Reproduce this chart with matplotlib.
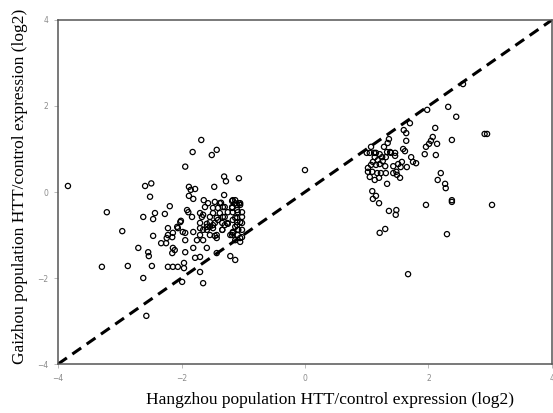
import matplotlib
matplotlib.use("Agg")
import matplotlib.pyplot as plt

# Hangzhou (x) vs Gaizhou (y) log2 HTT/control expression
hangzhou_down = [
    -3.84, -2.59, -2.49, -2.51, -1.94, -1.82, -1.68, -1.51, -1.43, -1.31, -1.28, -1.07,
    -1.88, -1.85, -1.78, -1.47, -1.31, -1.88, -1.81, -1.64, -1.46, -1.36, -1.18, -1.13,
    -1.07, -2.19, -2.27, -1.91, -1.89, -1.83, -2.01, -1.70, -1.62, -1.49, -1.41, -1.30,
    -1.25, -1.18, -1.10, -1.02, -1.05, -1.67, -1.54, -1.43, -1.33, -1.13, -1.02, -1.70,
    -1.59, -1.49, -1.34, -1.25, -1.10, -1.02, -2.22, -2.06, -1.70,
    -2.02, -2.07, -2.22, -2.24, -2.15, -2.33, -2.25, -2.14, -1.98, -1.94, -1.94, -1.81,
    -1.75, -1.70, -1.65, -1.59, -1.54, -1.46, -1.43, -1.34, -1.30, -1.21, -1.17, -1.13,
    -1.05, -1.05, -1.08, -1.10,
    -2.14, -2.15, -1.94, -1.81, -1.70, -1.78, -1.59, -1.43, -1.21, -1.13, -2.22, -2.14,
    -2.06, -1.96, -1.96, -1.99, -1.70, -1.65,
    -2.96, -3.29, -2.87, -2.62, -2.70, -2.54, -2.53, -2.48, -2.46, -2.57, -2.11, -3.21,
    -2.62, -2.46, -2.43,
    -1.57, -1.49, -1.38, -1.33, -1.17, -1.13, -1.10, -1.05, -1.18, -1.17, -1.09, -1.38,
    -1.30, -1.65, -1.46, -1.54, -1.41, -1.26, -1.17, -1.10, -1.05, -1.13, -1.09, -1.02,
    -1.17, -1.18, -1.09, -1.02, -1.59, -1.65, -1.49, -1.34, -1.43, -1.54,
]
gaizhou_down = [
    0.14, 0.14, 0.20, -0.11, 0.59, 0.93, 1.21, 0.86, 0.98, 0.36, 0.25, 0.32,
    0.12, 0.05, 0.07, 0.12, -0.07, -0.09, -0.16, -0.19, -0.23, -0.25, -0.21, -0.19,
    -0.26, -0.33, -0.51, -0.42, -0.47, -0.58, -0.67, -0.49, -0.35, -0.49, -0.37, -0.35,
    -0.47, -0.37, -0.42, -0.47, -0.30, -0.58, -0.58, -0.60, -0.58, -0.60, -0.58, -0.72,
    -0.74, -0.77, -0.72, -0.74, -0.70, -0.72, -0.84, -0.84, -0.84,
    -0.70, -0.81, -1.00, -1.07, -1.05, -1.19, -1.19, -0.95, -0.93, -0.95, -1.12, -0.93,
    -1.12, -1.00, -1.12, -0.88, -0.81, -1.02, -1.07, -0.88, -0.77, -1.00, -0.95, -1.12,
    -1.07, -1.16, -0.88, -0.77,
    -1.30, -1.42, -1.40, -1.30, -1.51, -1.53, -1.30, -1.42, -1.49, -1.58, -1.74, -1.74,
    -1.74, -1.65, -1.77, -2.09, -1.86, -2.12,
    -0.91, -1.74, -1.72, -2.00, -1.30, -1.40, -1.49, -1.72, -1.02, -2.88, -1.35, -0.47,
    -0.58, -0.63, -0.49,
    -0.26, -0.37, -0.26, -0.35, -0.19, -0.26, -0.30, -0.26, -0.35, -0.47, -0.47, -0.49,
    -0.58, -0.53, -0.72, -0.70, -0.65, -0.72, -0.65, -0.60, -0.70, -0.81, -0.88, -0.88,
    -0.93, -1.00, -1.00, -1.05, -0.81, -0.88, -0.84, -0.88, -1.00, -1.00,
]

hangzhou_up = [
    0.00, 2.56, 1.98, 2.32, 2.45, 1.70, 2.11, 1.60, 1.64, 2.91, 2.95, 2.07, 2.38, 1.64,
    2.04, 2.01, 1.96, 2.14, 1.36, 1.34, 1.28, 1.59, 1.62, 1.94, 2.12, 1.07, 1.00, 1.12,
    1.15, 1.21, 1.33, 1.38, 1.39, 1.46, 1.46, 1.31, 1.25, 1.13, 1.05, 1.72, 1.75, 1.80,
    1.57, 1.51, 1.43, 1.65, 1.55, 1.07, 1.15, 1.21, 1.30, 1.02, 1.02, 1.09, 1.17, 1.23,
    1.31, 1.43, 1.48, 1.49, 1.05, 1.13, 1.20, 1.33, 1.54, 2.20, 2.15, 2.27, 2.28, 1.09,
    1.15, 2.38, 1.10, 1.20, 1.36, 1.48, 1.47, 1.30, 1.21, 1.96, 2.38, 3.03, 2.30, 1.67,
    1.18, 1.26, 1.10,
]
gaizhou_up = [
    0.51, 2.51, 1.91, 1.98, 1.75, 1.60, 1.49, 1.44, 1.37, 1.35, 1.35, 1.28, 1.21, 1.19,
    1.19, 1.12, 1.05, 1.12, 1.23, 1.14, 1.05, 1.00, 0.95, 0.88, 0.86, 1.05, 0.91, 0.91,
    0.91, 0.88, 0.93, 0.93, 0.91, 0.91, 0.84, 0.81, 0.81, 0.81, 0.91, 0.81, 0.70, 0.67,
    0.70, 0.65, 0.60, 0.58, 0.58, 0.63, 0.63, 0.65, 0.60, 0.56, 0.47, 0.47, 0.44, 0.44,
    0.44, 0.44, 0.47, 0.40, 0.35, 0.28, 0.33, 0.19, 0.33, 0.44, 0.28, 0.19, 0.09, 0.02,
    -0.09, -0.19, -0.16, -0.26, -0.44, -0.42, -0.53, -0.86, -0.95, -0.30, -0.23, -0.30, -0.98, -1.91,
    0.74, 0.72, 0.70,
]

hangzhou = hangzhou_down + hangzhou_up
gaizhou = gaizhou_down + gaizhou_up
ticks = [-4, -2, 0, 2, 4]

fig = plt.figure(figsize=(5.53, 4.13), dpi=100)
ax = fig.add_axes([0.105, 0.1186, 0.893, 0.833])

# y = x reference line
ax.plot([-4, 4], [-4, 4], color='black', lw=2.2, ls=(0, (3.5, 2.2)), zorder=1)
ax.scatter(hangzhou, gaizhou, s=14, facecolors='none', edgecolors='black',
           linewidths=0.9, zorder=2)

ax.set_xlim(-4, 4)
ax.set_ylim(-4, 4)
ax.set_xticks(ticks)
ax.set_yticks(ticks)
ax.tick_params(length=3, width=0.6, color='#b0b0b0', labelsize=5.5,
               labelcolor='#8c8c8c', pad=4)
for s in ax.spines.values():
    s.set_color('#555555')
    s.set_linewidth(1.1)

ax.set_xlabel('Hangzhou population HTT/control expression (log2)',
              family='Liberation Serif', fontsize=12.5)
ax.set_ylabel('Gaizhou population HTT/control expression (log2)',
              family='Liberation Serif', fontsize=12.5)
ax.xaxis.set_label_coords(0.55, -0.08)
ax.yaxis.set_label_coords(-0.06, 0.515)

plt.savefig('out.png', dpi=100)
